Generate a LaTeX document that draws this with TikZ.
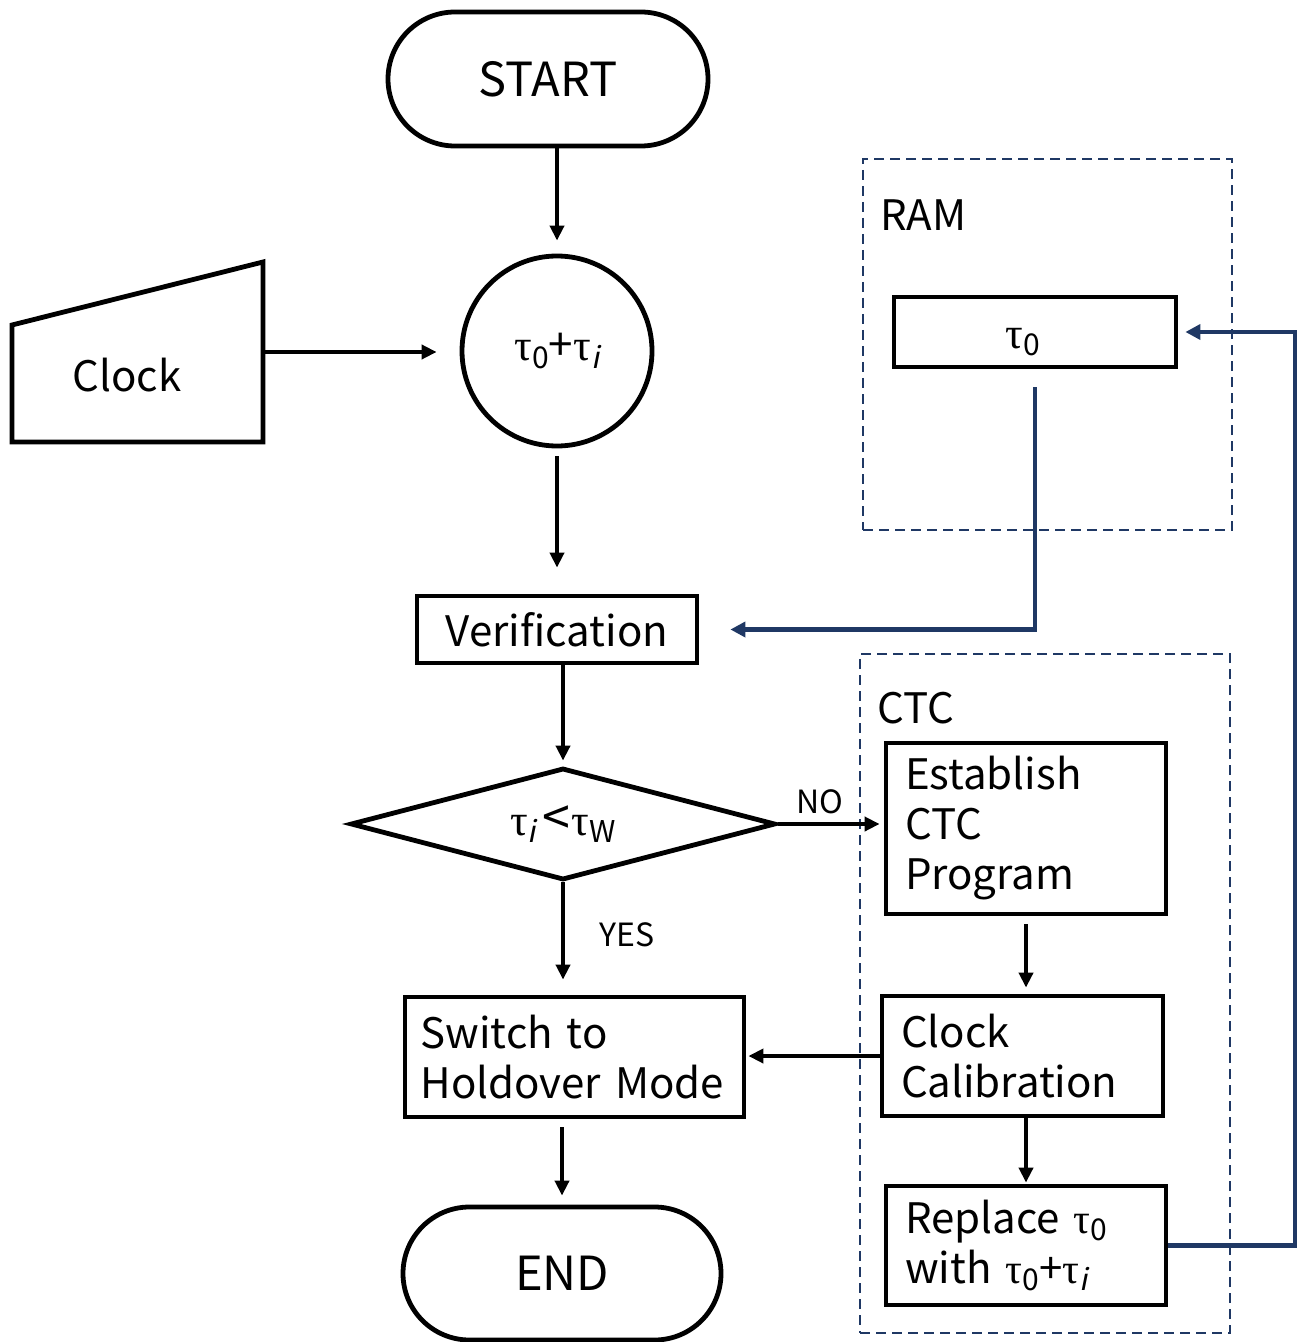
\documentclass[tikz,border=0pt]{standalone}
\usepackage{fontspec}
\setmainfont{Noto Sans CJK JP}
\newfontfamily\taufont{Liberation Serif}
\newfontfamily\itsans[FakeSlant=0.2]{Noto Sans CJK JP}
\usetikzlibrary{shapes.misc,shapes.geometric,arrows.meta,calc}
\definecolor{navy}{HTML}{1F3864}
\newcommand\tauc{{\taufont τ}}
\newcommand\sbs[1]{\raisebox{-0.3ex}{\fontsize{15}{15}\selectfont #1}}
\newcommand\isb{\sbs{\itsans i}}
\tikzset{
  every node/.style={font=\fontsize{21}{25}\selectfont},
  shp/.style={draw=black, line width=2.4pt, line join=miter},
  term/.style={shp, rounded rectangle, inner sep=0pt, font=\fontsize{23.5}{25}\selectfont},
  box/.style={shp, rectangle, inner sep=0pt},
  lbox/.style={box, align=left, inner xsep=9.5pt},
  dbox/.style={draw=navy, line width=1pt, dash pattern=on 5pt off 3pt, rectangle, inner sep=0pt},
  arr/.style={black, line width=1.9pt, -{Triangle[length=7.5pt,width=7pt]}},
  barr/.style={navy, line width=2.2pt, -{Triangle[length=7.5pt,width=7.5pt]}},
  small/.style={font=\fontsize{16}{16}\selectfont}
}
\begin{document}
\begin{tikzpicture}[x=0.5pt,y=-0.5pt]
\useasboundingbox (0,0) rectangle (1304,1342);

% dashed groups
\node[dbox, minimum width=184.5pt, minimum height=185.5pt] (ram) at (1047.5,344.5) {};
\node[anchor=west, inner sep=0pt] (ramlbl) at (880,215) {RAM};
\node[dbox, minimum width=185pt, minimum height=339.5pt] (ctc) at (1045,993.5) {};
\node[anchor=west, inner sep=0pt] (ctclbl) at (877,708) {CTC};

% main flow
\node[term, minimum width=160pt, minimum height=67pt] (start) at (548,79) {START};
\node[shp, circle, minimum size=95pt, inner sep=0pt, font=\fontsize{22}{25}\selectfont] (sum) at (557,351) {\tauc\sbs{0}+\tauc\isb};
\draw[shp] (12,325) -- (263,262) -- (263,442) -- (12,442) -- cycle;
\node[inner sep=0pt, minimum width=125.5pt, minimum height=90pt] (clock) at (137.5,352) {};
\node (clocktext) at (127,375) {Clock};
\node[box, minimum width=140pt, minimum height=33.5pt] (verif) at (557,629.5) {Verification};
\node[shp, diamond, aspect=3.8, minimum width=212.5pt, minimum height=56pt, inner sep=0pt, font=\fontsize{22}{25}\selectfont] (dec) at (563,824) {\tauc\isb\hspace{3pt}{\fontsize{25}{25}\selectfont<}\hspace{1pt}\tauc\sbs{W}};
\node[box, text width=154pt, align=left, inner xsep=7.75pt, minimum height=60pt] (sw) at (574.5,1057) {Switch to\\Holdover Mode};
\node[term, minimum width=159pt, minimum height=66.5pt] (end) at (562,1273.5) {END};

% RAM content
\node[box, minimum width=141pt, minimum height=35pt,
  label={[name=t0txt, inner sep=0pt, xshift=-6pt, yshift=-5pt, font=\fontsize{22}{25}\selectfont]center:\tauc\sbs{0}}] (t0) at (1035,332) {};

% CTC content
\node[lbox, text width=121pt, minimum height=85.5pt] (est) at (1026,828.5) {Establish\\CTC\\Program};
\node[lbox, text width=121.5pt, minimum height=60pt] (cal) at (1022.5,1056) {Clock\\Calibration};
\node[lbox, text width=121pt, minimum height=59.5pt] (rep) at (1026,1245.5) {Replace \tauc\sbs{0}\\with \tauc\sbs{0}+\tauc\isb};

% connectors
\draw[arr, shorten >=6.5pt] (start.south -| sum.north) -- (sum.north);
\draw[arr, shorten >=11.5pt] (clock.east) -- (clock.east -| sum.west);
\draw[arr, shorten <=4pt, shorten >=13pt] (sum.south) -- (verif.north);
\draw[arr, shorten >=2.5pt] (verif.south -| dec.north) -- (dec.north);
\draw[arr, shorten >=2pt] (dec.east) -- (dec.east -| est.west) node[small, pos=0.4, above=1pt] {NO};
\draw[arr, shorten >=7.5pt] (dec.south) -- (dec.south |- sw.north) node[small, midway, right=14pt, yshift=2pt] {YES};
\draw[arr, shorten <=4pt, shorten >=4.5pt] (sw.south -| end.north) -- (end.north);
\draw[arr, shorten <=4pt, shorten >=3pt] (est.south) -- (est.south |- cal.north);
\draw[arr, shorten >=1pt] (cal.west) -- (cal.west -| sw.east);
\draw[arr, shorten >=0.5pt] (cal.south -| rep.north) -- (rep.north);

\draw[barr, shorten <=9pt, shorten >=15.5pt] (t0.south) -- (t0.south |- verif.east) -- (verif.east);
\coordinate (loop) at (1295,1243);
\draw[barr, shorten >=3.5pt] (rep.east) -- (rep.east -| loop) -- (loop |- t0.east) -- (t0.east);
\end{tikzpicture}
\end{document}
